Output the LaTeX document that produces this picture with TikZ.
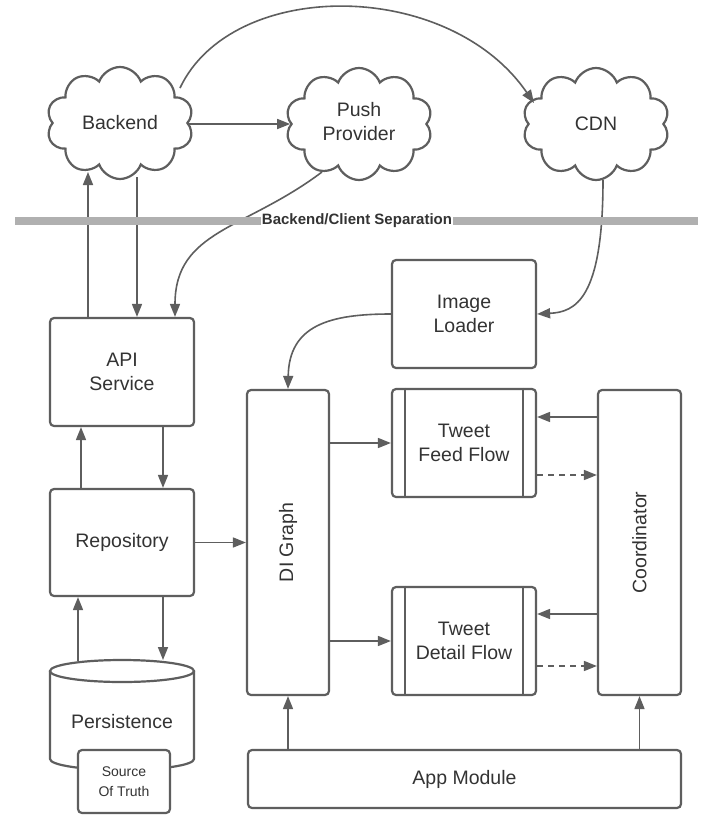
\documentclass[tikz,border=0pt]{standalone}
\usepackage{fontspec}
\setmainfont{Liberation Sans}
\usetikzlibrary{shapes.symbols,arrows.meta,calc}
\definecolor{ln}{RGB}{94,94,94}
\definecolor{tx}{RGB}{51,51,51}
\definecolor{barc}{RGB}{176,176,176}
\begin{document}
\begin{tikzpicture}[x=1pt,y=-1pt,
  every node/.style={font=\fontsize{19.5}{24}\selectfont, text=tx},
  box/.style={draw=ln, line width=2.2pt, rounded corners=4pt, fill=white, align=center, inner sep=0pt},
  cl/.style={cloud, cloud puffs=10, cloud puff arc=140, aspect=1.3, draw=ln, line width=2.2pt, fill=white, align=center, inner sep=0pt, minimum width=147pt, minimum height=112pt},
  arr/.style={draw=ln, line width=1.6pt, -{Triangle[length=13pt,width=10pt]}},
  darr/.style={arr, dash pattern=on 6pt off 5pt}]
\fill[white] (0,0) rectangle (708,820);
\useasboundingbox (0,0) rectangle (708,820);

% clouds
\node[cl] (be) at (120,123) {Backend};
\node[cl] (pp) at (359,124) {\raisebox{5pt}{\begin{tabular}{@{}c@{}}Push\\Provider\end{tabular}}};
\node[cl] (cdn) at (596,124) {CDN};

% boxes
\node[box, minimum width=144pt, minimum height=108pt] (api) at (122,372) {API\\Service};
\node[box, minimum width=144pt, minimum height=107pt] (rep) at (122,542.5) {Repository};
\node[box, minimum width=82pt, minimum height=305pt] (di) at (288,542.5) {\rotatebox{90}{DI Graph}};
\node[box, minimum width=144pt, minimum height=108pt] (il) at (464,314) {Image\\Loader};
\node[box, minimum width=144pt, minimum height=108pt] (tf) at (464,443) {Tweet\\Feed Flow};
\node[box, minimum width=144pt, minimum height=108pt] (td) at (464,641) {Tweet\\Detail Flow};
\node[box, minimum width=83pt, minimum height=305pt] (co) at (639.5,542.5) {\rotatebox{90}{Coordinator}};
\node[box, minimum width=433pt, minimum height=58pt] (app) at (464.5,779) {App Module};

% process bars
\foreach \n in {tf,td}{
  \draw[ln, line width=2.2pt] ($(\n.north west)+(14,0)$) -- ($(\n.south west)+(14,0)$);
  \draw[ln, line width=2.2pt] ($(\n.north east)+(-14,0)$) -- ($(\n.south east)+(-14,0)$);
}

% persistence cylinder
\node[minimum width=144pt, minimum height=110pt, inner sep=0pt] (pers) at (122,715) {};
\draw[ln, line width=2.2pt, fill=white] (50,671) -- (50,759) arc[start angle=180, end angle=360, x radius=72pt, y radius=11pt] -- (194,671);
\draw[ln, line width=2.2pt, fill=white] (122,671) ellipse [x radius=72pt, y radius=11pt];
\node at (122,722) {Persistence};
\node[box, minimum width=92pt, minimum height=63pt, font=\fontsize{14}{20}\selectfont] (src) at (124,781.5) {Source\\Of Truth};

% connectors
\coordinate (x1) at (88,0);
\coordinate (x2) at (137,0);
\coordinate (beU) at (88,172);
\coordinate (beD) at (137,177);
\draw[arr] (api.north -| x1) -- (beU);
\draw[arr] (beD) -- (api.north -| x2);

\coordinate (x3) at (81,0);
\coordinate (x4) at (163,0);
\draw[arr] (rep.north -| x3) -- (api.south -| x3);
\draw[arr] (api.south -| x4) -- (rep.north -| x4);

\coordinate (x5) at (78,0);
\coordinate (persL) at (78,661);
\coordinate (persTop) at (163,660);
\draw[arr] (persL) -- (rep.south -| x5);
\draw[arr] (rep.south -| x4) -- (persTop);

\draw[arr] (rep.east) -- (rep.east -| di.west);
\draw[arr] (di.east |- tf.west) -- (tf.west);
\draw[arr] (di.east |- td.west) -- (td.west);

\coordinate (tfa) at ($(tf.east)+(0,-26)$);
\coordinate (tfb) at ($(tf.east)+(0,32)$);
\coordinate (tda) at ($(td.east)+(0,-27)$);
\coordinate (tdb) at ($(td.east)+(0,25)$);
\draw[arr] (co.west |- tfa) -- (tfa);
\draw[darr] (tfb) -- (co.west |- tfb);
\draw[arr] (co.west |- tda) -- (tda);
\draw[darr] (tdb) -- (co.west |- tdb);

\draw[arr] (app.north -| di.south) -- (di.south);
\draw[arr] (app.north -| co.south) -- (co.south);

\draw[arr] (be.east |- pp.west) -- (pp.west);
\coordinate (beTR) at (180,88);
\coordinate (cdnL) at (534,103);
\draw[arr] (beTR) .. controls (232,-22) and (448,-22) .. (cdnL);

\coordinate (ppB) at (322,172);
\draw[arr] (ppB) .. controls (245,230) and (175,230) .. ($(api.north)+(53,0)$);

\coordinate (cdnB) at (603,180);
\draw[arr] (cdnB) .. controls (603,300) and (575,312) .. (il.east);

\draw[arr] (il.west) .. controls (330,314) and (289,325) .. (di.north);

% separation bar
\draw[barc, line width=8pt] (15,221) -- (698,221);
\node[fill=white, inner sep=1pt, font=\bfseries\fontsize{15}{18}\selectfont] (sep) at (357,221) {Backend/Client Separation};
\end{tikzpicture}
\end{document}
